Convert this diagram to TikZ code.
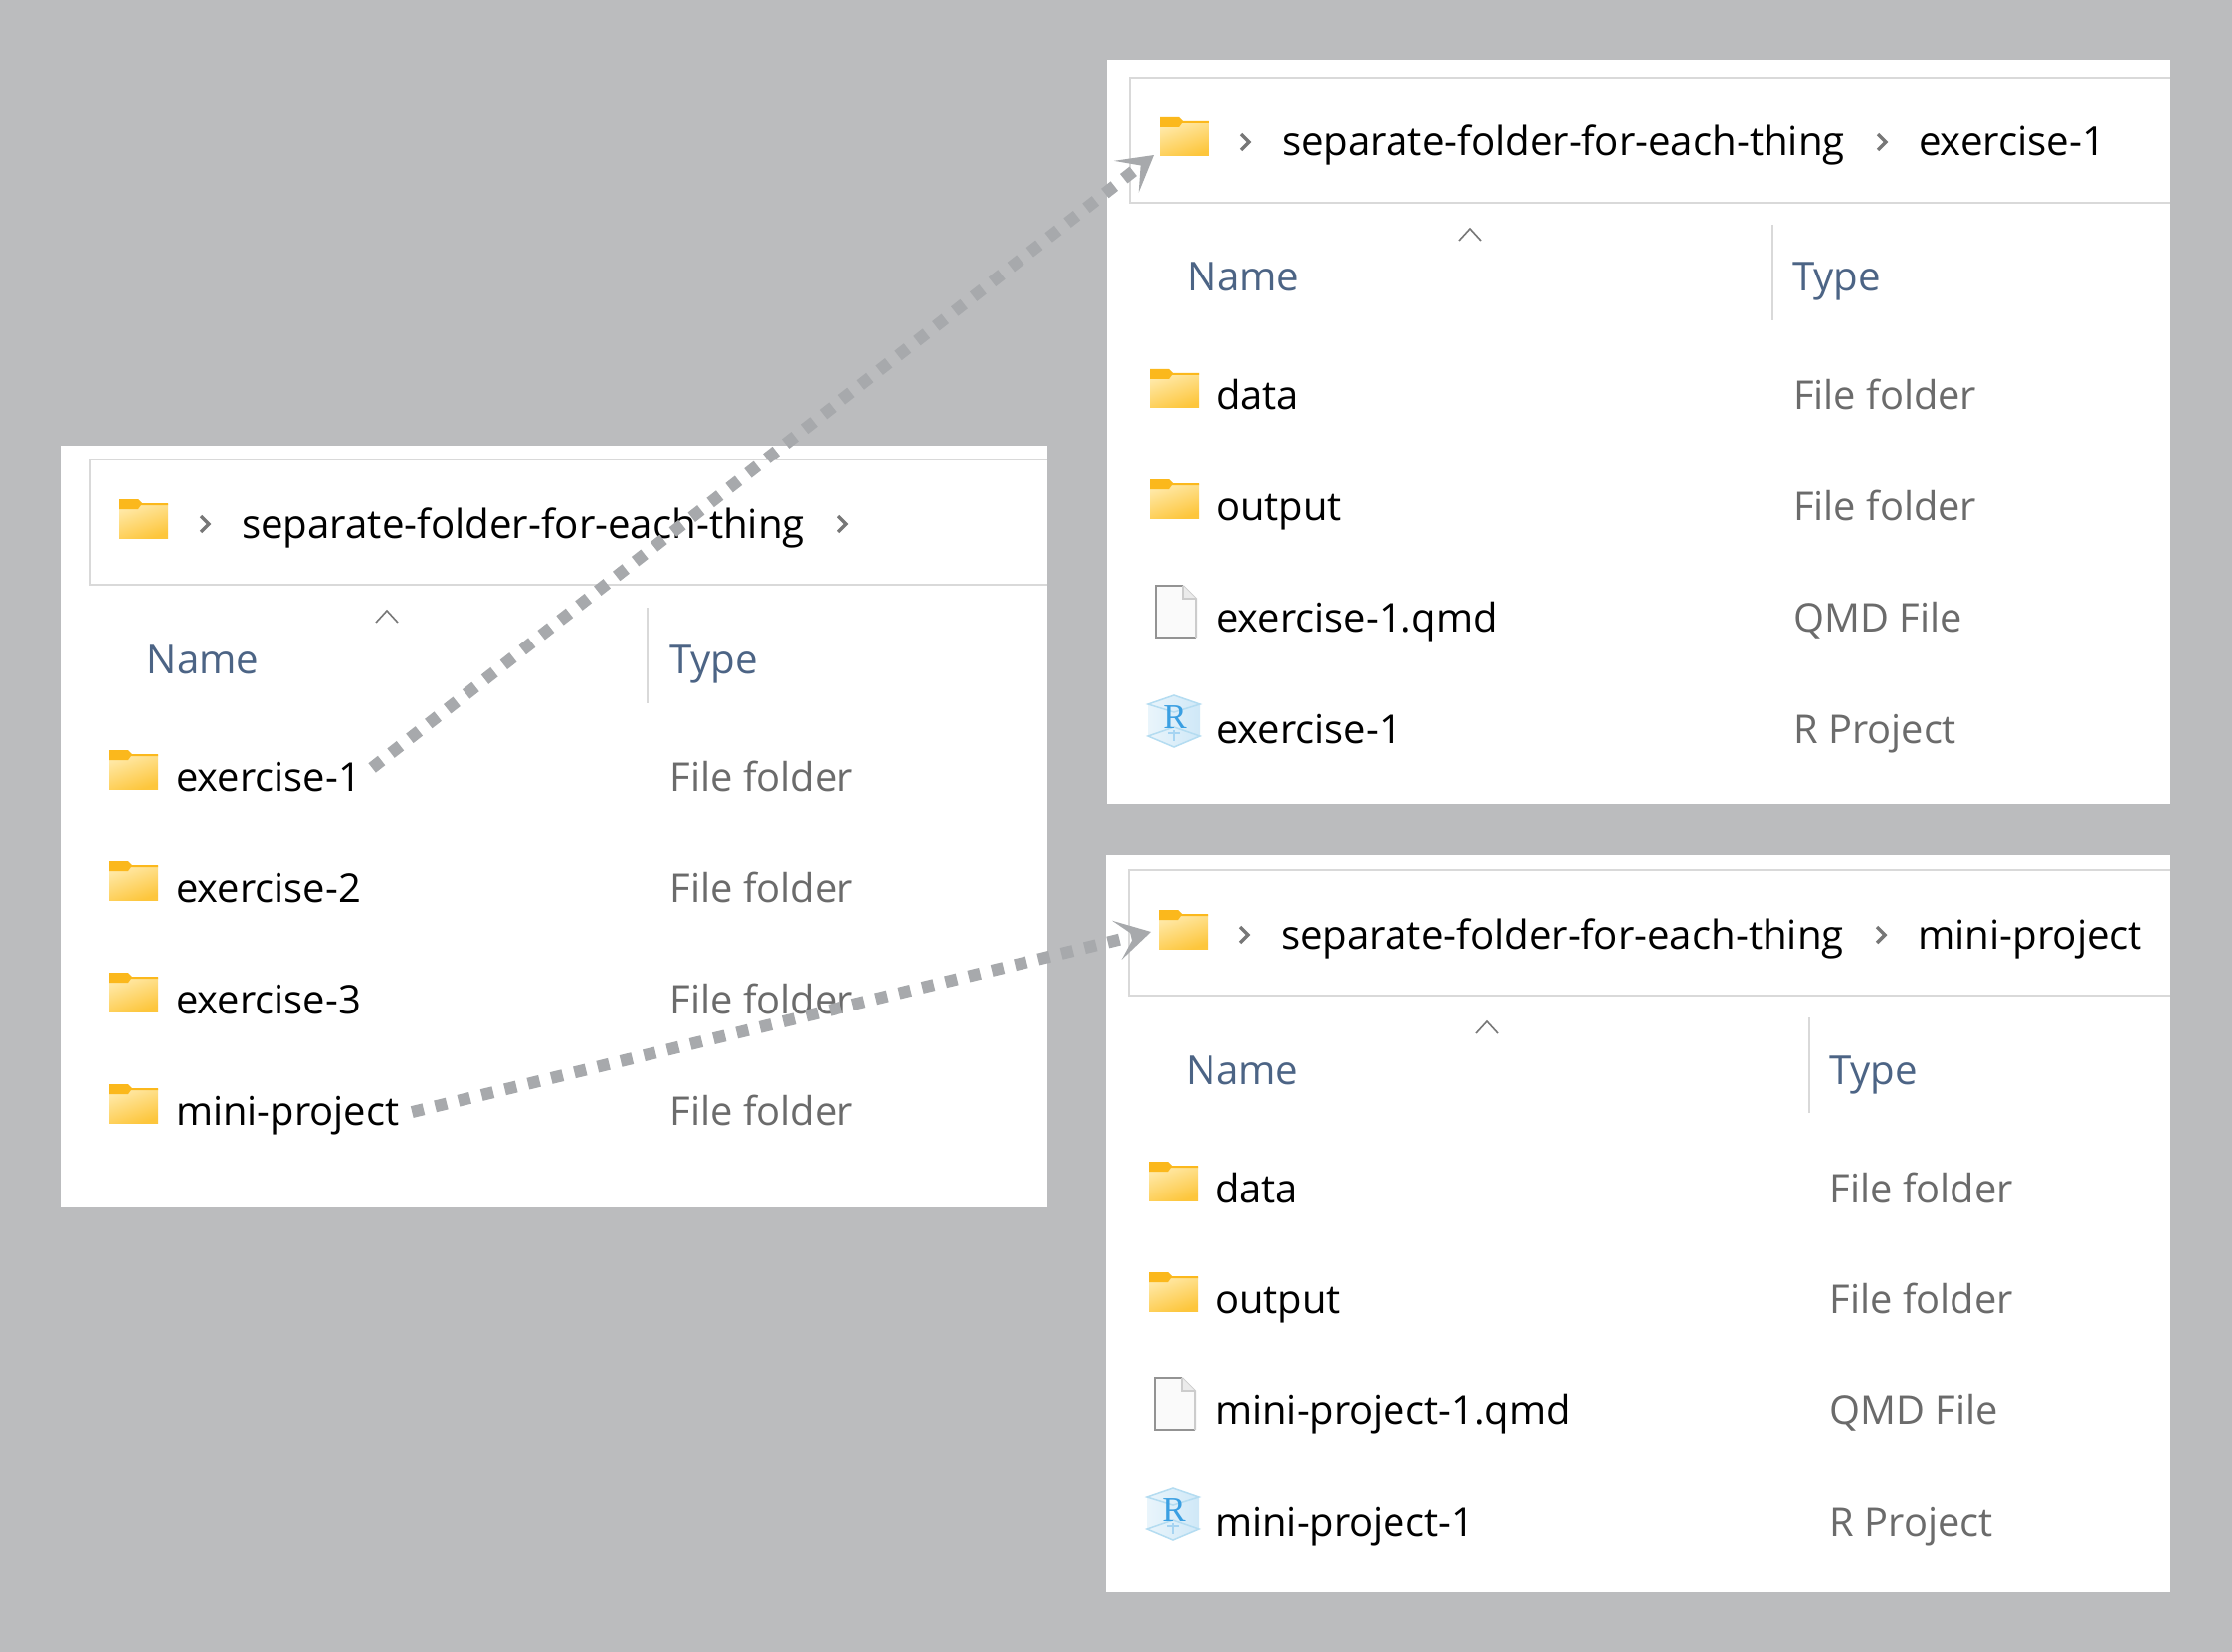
\documentclass[tikz,border=0pt]{standalone}
\usepackage{fontspec}
\setmainfont{Open Sans}
\newfontfamily\rfont{Liberation Serif}
\usetikzlibrary{arrows.meta}

\definecolor{pagegray}{HTML}{BBBCBE}
\definecolor{linkgray}{HTML}{A7A9AC}
\definecolor{rulegray}{HTML}{D9D9D9}
\definecolor{headblue}{HTML}{4C6485}
\definecolor{typegray}{HTML}{6B6B6B}
\definecolor{marktone}{HTML}{777777}
\definecolor{folderlight}{HTML}{FFE9A8}
\definecolor{folderdark}{HTML}{FDC63C}
\definecolor{foldertab}{HTML}{FBB81C}
\definecolor{cubeblue}{HTML}{CFE8F7}
\definecolor{cubeedge}{HTML}{B4DCF1}
\definecolor{letterblue}{HTML}{3A9FE2}

\tikzstyle{panel} = [fill=white, anchor=north west, inner sep=0pt, outer sep=0pt]
\tikzstyle{word} = [anchor=base west, inner sep=0pt, font=\fontsize{40.2}{48}\selectfont]
\tikzstyle{rowword} = [word, font=\fontsize{39.9}{48}\selectfont]
\tikzstyle{headword} = [word, text=headblue]
\tikzstyle{typeword} = [word, text=typegray, font=\fontsize{39.8}{48}\selectfont]
\tikzstyle{addr} = [draw=rulegray, line width=2pt]
\tikzstyle{divider} = [draw=rulegray, line width=2pt]
\tikzstyle{link} = [draw=linkgray, line width=12pt, dash pattern=on 12pt off 12pt,
  -{Stealth[length=35pt,width=40pt,inset=18pt]}]

\tikzset{
  folderpic/.pic={
    \shade[left color=folderlight, right color=folderdark, shading angle=20]
      (0,6) -- (49,6) -- (49,40) -- (0,40) -- cycle;
    \fill[foldertab] (0,1) -- (19,1) -- (23,5) -- (49,5) -- (49,7) -- (22,7) -- (19,11) -- (0,11) -- cycle;
  },
  docpic/.pic={
    \fill[white!98!black] (0,0) -- (27,0) -- (40,13) -- (40,52) -- (0,52) -- cycle;
    \draw[gray!85, line width=2pt] (40,52) -- (0,52) -- (0,0) -- (27,0);
    \draw[gray!40, line width=2pt] (27,0) -- (40,13) -- (40,52);
    \draw[gray!40, line width=2pt, fill=white!92!black] (27,0) -- (27,13) -- (40,13);
  },
  cubepic/.pic={
    \shade[left color=cubeblue!45, right color=cubeblue]
      (0,-26) -- (26,-17) -- (26,15) -- (0,26) -- (-26,15) -- (-26,-17) -- cycle;
    \draw[cubeedge, line width=1.5pt] (-26,-17) -- (0,-26) -- (26,-17) -- (0,-9) -- cycle
      (-26,15) -- (0,6) -- (26,15) -- (0,26) -- cycle;
    \draw[letterblue!45, line width=2pt] (0,9) -- (0,20) (-6,12) -- (6,12);
    \node[inner sep=0pt, text=letterblue, font=\rfont\fontsize{35}{35}\selectfont] (rmark) at (1,-4) {R};
  },
  chevpic/.pic={
    \draw[marktone, line width=3.5pt] (-4,-8) -- (4,0) -- (-4,8);
  },
  caretpic/.pic={
    \draw[marktone, line width=1.6pt] (-11,6) -- (0,-6) -- (11,6);
  }
}

\begin{document}
\begin{tikzpicture}[x=1pt, y=-1pt]
\useasboundingbox[fill=pagegray] (0,0) rectangle (2244,1661);

% left window
\node[panel, minimum width=992pt, minimum height=766pt] (leftpanel) at (61,448) {};
\draw[addr] (leftpanel.north east |- 0,462) -- (90,462) -- (90,588) -- (leftpanel.north east |- 0,588);
\pic at (120,501) {folderpic};
\pic at (206,527) {chevpic};
\node[word] (leftpath) at (243,541) {separate-folder-for-each-thing};
\pic at (847,527) {chevpic};
\pic at (389,620) {caretpic};
\node[headword] (leftname) at (147.5,677) {Name};
\draw[divider] (651,611) -- (651,707);
\node[headword] (lefttype) at (673,677) {Type};
\foreach \ypos/\rowname [count=\i] in {795/exercise-1, 907/exercise-2, 1019/exercise-3, 1131/mini-project}
{
  \pic at (110,\ypos-42) {folderpic};
  \node[rowword] (leftrow\i) at (177,\ypos) {\rowname};
  \node[typeword] (lefttype\i) at (673.5,\ypos) {File folder};
}

% upper right window
\node[panel, minimum width=1069pt, minimum height=748pt] (toppanel) at (1113,60) {};
\draw[addr] (toppanel.north east |- 0,78) -- (1136,78) -- (1136,204) -- (toppanel.north east |- 0,204);
\pic at (1166,117) {folderpic};
\pic at (1252,143) {chevpic};
\node[word] (toppath) at (1289,157) {separate-folder-for-each-thing};
\pic at (1892,143) {chevpic};
\node[word] (topleaf) at (1929,157) {exercise-1};
\pic at (1478,236) {caretpic};
\node[headword] (topname) at (1193.5,293) {Name};
\draw[divider] (1782,226) -- (1782,322);
\node[headword] (toptype) at (1802,293) {Type};
\foreach \ypos/\rowname [count=\i] in {412/data, 523/output}
{
  \pic at (1156,\ypos-42) {folderpic};
  \node[rowword] (toprow\i) at (1223,\ypos) {\rowname};
  \node[typeword] (toptype\i) at (1803,\ypos) {File folder};
}
\pic at (1162,589) {docpic};
\node[rowword] (toprow3) at (1223,635) {exercise-1.qmd};
\node[typeword] (toptype3) at (1803,635) {QMD File};
\pic at (1180,725) {cubepic};
\node[rowword] (toprow4) at (1223,747) {exercise-1};
\node[typeword] (toptype4) at (1803,747) {R Project};

% lower right window
\node[panel, minimum width=1070pt, minimum height=741pt] (lowpanel) at (1112,860) {};
\draw[addr] (lowpanel.north east |- 0,875) -- (1135,875) -- (1135,1001) -- (lowpanel.north east |- 0,1001);
\pic at (1165,914) {folderpic};
\pic at (1251,940) {chevpic};
\node[word] (lowpath) at (1288,954) {separate-folder-for-each-thing};
\pic at (1891,940) {chevpic};
\node[word] (lowleaf) at (1928,954) {mini-project};
\pic at (1495,1033) {caretpic};
\node[headword] (lowname) at (1192.5,1090) {Name};
\draw[divider] (1819,1023) -- (1819,1119);
\node[headword] (lowtype) at (1839,1090) {Type};
\foreach \ypos/\rowname [count=\i] in {1209/data, 1320/output}
{
  \pic at (1155,\ypos-42) {folderpic};
  \node[rowword] (lowrow\i) at (1222,\ypos) {\rowname};
  \node[typeword] (lowtype\i) at (1839.5,\ypos) {File folder};
}
\pic at (1161,1386) {docpic};
\node[rowword] (lowrow3) at (1222,1432) {mini-project-1.qmd};
\node[typeword] (lowtype3) at (1839.5,1432) {QMD File};
\pic at (1179,1522) {cubepic};
\node[rowword] (lowrow4) at (1222,1544) {mini-project-1};
\node[typeword] (lowtype4) at (1839.5,1544) {R Project};

% dotted links
\coordinate (tiptop) at (1160,156);
\coordinate (tiplow) at (1157,937);
\draw[link, shorten <=14pt] (leftrow1.east) -- (tiptop);
\draw[link, shorten <=13pt] (leftrow4.east) -- (tiplow);
\end{tikzpicture}
\end{document}
